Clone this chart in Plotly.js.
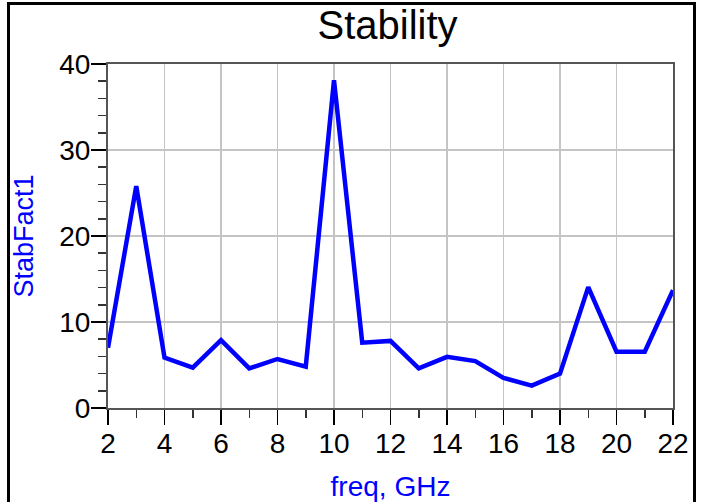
<!DOCTYPE html>
<html>
<head>
<meta charset="utf-8">
<script src="https://cdn.plot.ly/plotly-3.0.1.min.js"></script>
<style>
  html, body { margin: 0; padding: 0; background: #fff; }
  #wrap { position: relative; width: 702px; height: 502px; }
  #chart { width: 702px; height: 502px; }
  #frame { position: absolute; left: 7px; top: 2px; width: 683px; height: 498px;
           border-left: 3px solid #000; border-top: 3px solid #000; border-right: 3px solid #000;
           border-bottom: 1px solid #999; pointer-events: none; }
</style>
</head>
<body>
<div id="wrap">
  <div id="chart"></div>
  <div id="frame"></div>
</div>
<script>
const freqGHz = [2, 3, 4, 5, 6, 7, 8, 9, 10, 11, 12, 13, 14, 15, 16, 17, 18, 19, 20, 21, 22];
const stabFact1 = [7.0, 25.8, 5.85, 4.7, 7.9, 4.6, 5.7, 4.8, 38.1, 7.6, 7.8, 4.6, 5.95, 5.45, 3.5, 2.6, 4.0, 14.05, 6.55, 6.55, 13.7];
const xTickVals = [2, 4, 6, 8, 10, 12, 14, 16, 18, 20, 22];
const yTickVals = [0, 10, 20, 30, 40];

const FONT = 'Liberation Sans, Arial, sans-serif';

const trace = {
  x: freqGHz,
  y: stabFact1,
  type: 'scatter',
  mode: 'lines',
  line: { color: '#0000ff', width: 4.5 },
  hoverinfo: 'x+y',
  showlegend: false
};

const layout = {
  width: 702,
  height: 502,
  margin: { l: 108, r: 29, t: 64, b: 94, pad: 0 },
  paper_bgcolor: '#ffffff',
  plot_bgcolor: '#ffffff',
  title: {
    text: 'Stability',
    font: { family: FONT, size: 40, color: '#000' },
    x: 0.552, xref: 'container', xanchor: 'center',
    y: 1 - 25 / 502, yref: 'container', yanchor: 'middle'
  },
  xaxis: {
    range: [2, 22],
    tickmode: 'array',
    tickvals: xTickVals,
    ticktext: xTickVals.map(String),
    ticks: 'outside', ticklen: 15, tickwidth: 1.5, tickcolor: '#000',
    ticklabelstandoff: -6,
    minor: { dtick: 1, ticks: 'outside', ticklen: 8, tickwidth: 1.5, tickcolor: '#333', showgrid: false },
    showgrid: true, gridcolor: '#c4c4c4', gridwidth: 1.5,
    showline: true, linecolor: '#555', linewidth: 2, mirror: true,
    zeroline: false,
    tickfont: { family: FONT, size: 28, color: '#000' },
    title: { text: 'freq, GHz', font: { family: FONT, size: 28, color: '#0000ff' }, standoff: 25 }
  },
  yaxis: {
    range: [0, 40],
    tickmode: 'array',
    tickvals: yTickVals,
    ticktext: yTickVals.map(String),
    ticks: 'outside', ticklen: 15, tickwidth: 1.5, tickcolor: '#000',
    ticklabelstandoff: -5,
    minor: { dtick: 2, ticks: 'outside', ticklen: 8, tickwidth: 1.5, tickcolor: '#333', showgrid: false },
    showgrid: true, gridcolor: '#c4c4c4', gridwidth: 1.5,
    showline: true, linecolor: '#555', linewidth: 2, mirror: true,
    zeroline: false,
    tickfont: { family: FONT, size: 28, color: '#000' },
    title: { text: 'StabFact1', font: { family: FONT, size: 27, color: '#0000ff' }, standoff: 18 }
  }
};

Plotly.newPlot('chart', [trace], layout, { staticPlot: true, displayModeBar: false });
</script>
</body>
</html>
